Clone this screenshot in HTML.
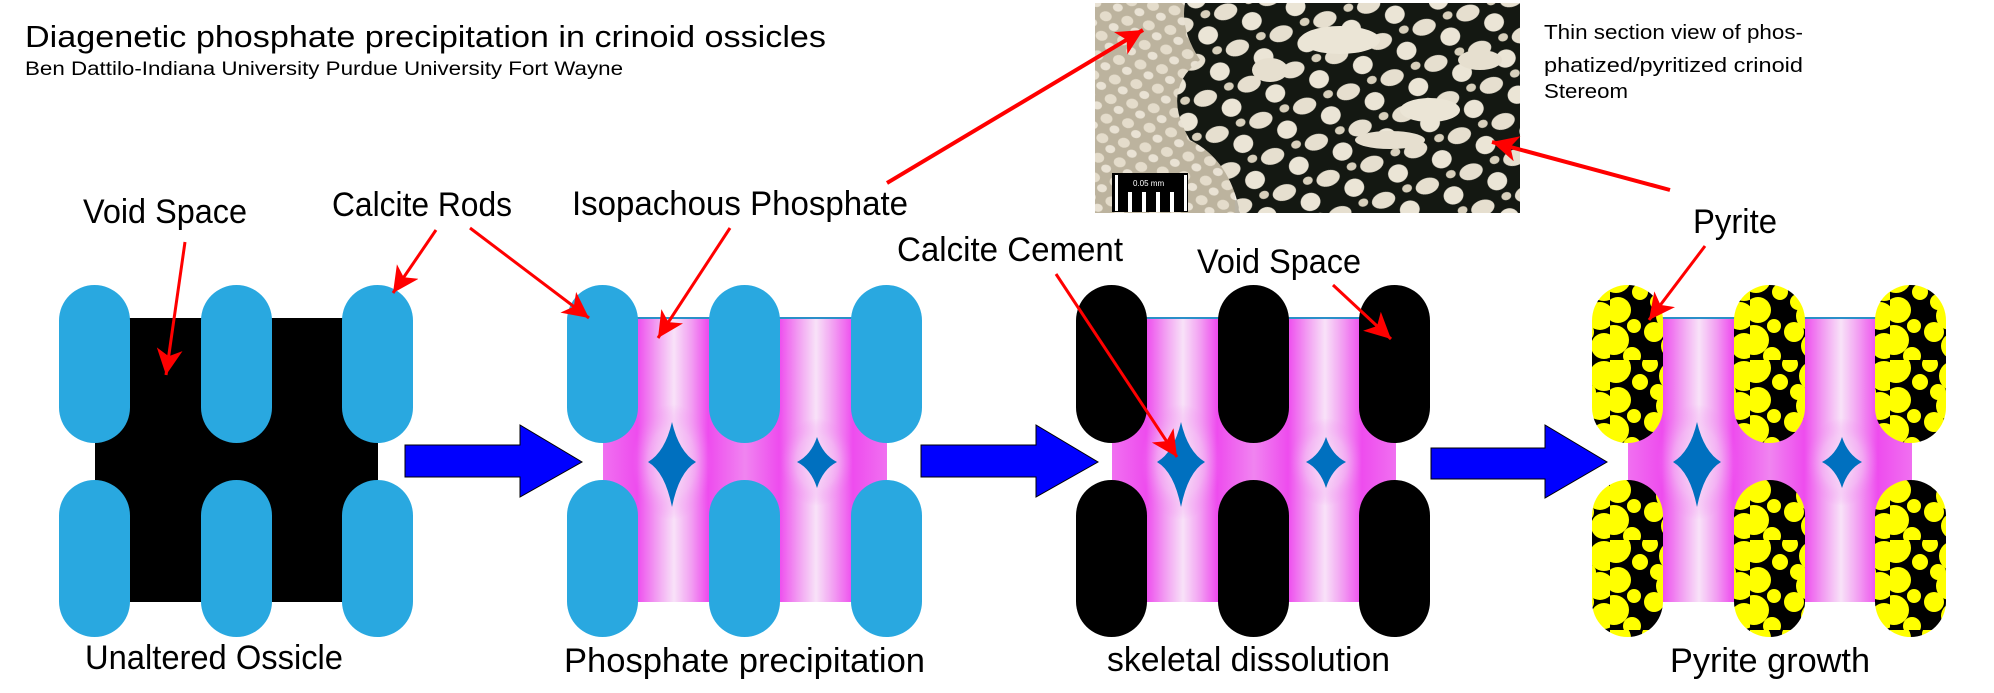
<!DOCTYPE html>
<html><head><meta charset="utf-8"><style>
html,body{margin:0;padding:0;background:#fff;width:1994px;height:693px;overflow:hidden}
svg{display:block}
text{font-family:"Liberation Sans Narrow","Liberation Sans",sans-serif;fill:#000}
</style></head><body>
<svg width="1994" height="693" viewBox="0 0 1994 693" xmlns="http://www.w3.org/2000/svg">
<defs>
<linearGradient id="pk" x1="0" y1="0" x2="1" y2="0">
<stop offset="0" stop-color="#f070f0"/><stop offset="0.12" stop-color="#ee4cee"/>
<stop offset="0.19" stop-color="#f2a0f2"/><stop offset="0.25" stop-color="#f8e2f8"/>
<stop offset="0.31" stop-color="#f2a0f2"/><stop offset="0.37" stop-color="#ee4cee"/>
<stop offset="0.5" stop-color="#f084f0"/><stop offset="0.62" stop-color="#ee4cee"/>
<stop offset="0.69" stop-color="#f2a0f2"/><stop offset="0.75" stop-color="#f8e2f8"/>
<stop offset="0.81" stop-color="#f2a0f2"/><stop offset="0.88" stop-color="#ee4cee"/>
<stop offset="1" stop-color="#f070f0"/>
</linearGradient>
<radialGradient id="halo"><stop offset="0" stop-color="#f8e0f8" stop-opacity="0.9"/><stop offset="0.6" stop-color="#f4c0f4" stop-opacity="0.5"/><stop offset="1" stop-color="#f080f0" stop-opacity="0"/></radialGradient>
<marker id="ah" markerUnits="userSpaceOnUse" markerWidth="34" markerHeight="30" refX="26" refY="13" orient="auto">
<path d="M0,0 L26,13 L0,26 L7,13 Z" fill="#ff0000"/>
</marker>
<pattern id="py" patternUnits="userSpaceOnUse" width="70" height="90">
<rect width="70" height="90" fill="#000"/>
<g fill="#ffff00">
<circle cx="6" cy="8" r="15"/><circle cx="64" cy="16" r="15"/><circle cx="8" cy="40" r="13"/>
<circle cx="60" cy="46" r="14"/><circle cx="4" cy="70" r="15"/><circle cx="64" cy="76" r="13"/>
<circle cx="30" cy="22" r="8"/><circle cx="44" cy="62" r="10"/><circle cx="24" cy="56" r="7"/>
<circle cx="40" cy="4" r="8"/><circle cx="48" cy="32" r="8"/><circle cx="22" cy="86" r="9"/>
</g>
</pattern>
<pattern id="dots" patternUnits="userSpaceOnUse" width="22" height="20" patternTransform="rotate(12)">
<rect width="22" height="20" fill="#b9b3a4"/>
<ellipse cx="7" cy="6" rx="6" ry="5" fill="#eeeae0"/><ellipse cx="17" cy="15" rx="5" ry="4" fill="#f4f2ec"/>
</pattern>
<pattern id="blobs" patternUnits="userSpaceOnUse" width="46" height="38" patternTransform="rotate(-18)">
<rect width="46" height="38" fill="#141812"/>
<ellipse cx="12" cy="10" rx="12" ry="8" fill="#e6dfcf"/><ellipse cx="34" cy="27" rx="10" ry="9" fill="#ebe5d6"/>
<ellipse cx="38" cy="6" rx="5" ry="4" fill="#d8d0bc"/>
</pattern>
<clipPath id="ph"><rect x="1095" y="3" width="425" height="210"/></clipPath>
</defs>

<text x="25" y="47" font-size="31" textLength="801" lengthAdjust="spacingAndGlyphs">Diagenetic phosphate precipitation in crinoid ossicles</text>
<text x="25" y="75" font-size="19" textLength="598" lengthAdjust="spacingAndGlyphs">Ben Dattilo-Indiana University Purdue University Fort Wayne</text>

<g clip-path="url(#ph)">
<rect x="1095" y="3" width="425" height="210" fill="url(#dots)"/>
<rect x="1095" y="3" width="140" height="210" fill="#c8b48a" opacity="0.25"/>
<path d="M1185,3 L1520,3 L1520,213 L1240,213 Q1230,160 1190,140 Q1160,90 1200,60 Q1180,30 1185,3 Z" fill="url(#blobs)"/>
<ellipse cx="1340" cy="40" rx="40" ry="14" fill="#ebe5d6"/>
<ellipse cx="1430" cy="110" rx="30" ry="12" fill="#ebe5d6"/>
<ellipse cx="1390" cy="140" rx="35" ry="9" fill="#e6dfcf"/>
<ellipse cx="1270" cy="70" rx="18" ry="12" fill="#e6dfcf"/>
<ellipse cx="1480" cy="60" rx="22" ry="10" fill="#e6dfcf"/>
<rect x="1112" y="173" width="76" height="39" fill="#000"/>
<g fill="#fff"><rect x="1115" y="175" width="3" height="36"/><rect x="1184" y="175" width="3" height="36"/>
<rect x="1128" y="192" width="4" height="20"/><rect x="1142" y="192" width="4" height="20"/><rect x="1156" y="192" width="4" height="20"/><rect x="1170" y="192" width="4" height="20"/></g>
<text x="1133" y="186" font-size="8" style="fill:#fff">0.05 mm</text>
</g>
<text x="1544" y="39" font-size="20" textLength="259" lengthAdjust="spacingAndGlyphs">Thin section view of phos-</text>
<text x="1544" y="72" font-size="20" textLength="259" lengthAdjust="spacingAndGlyphs">phatized/pyritized crinoid</text>
<text x="1544" y="98" font-size="20" textLength="84" lengthAdjust="spacingAndGlyphs">Stereom</text>

<rect x="95" y="318" width="283" height="284" fill="#000"/>
<g fill="#29a8e0">
<rect x="59" y="285" width="71" height="158" rx="35.5"/><rect x="201" y="285" width="71" height="158" rx="35.5"/><rect x="342" y="285" width="71" height="158" rx="35.5"/>
<rect x="59" y="480" width="71" height="157" rx="35.5"/><rect x="201" y="480" width="71" height="157" rx="35.5"/><rect x="342" y="480" width="71" height="157" rx="35.5"/>
</g>

<rect x="603" y="318" width="284" height="284" fill="url(#pk)"/>
<rect x="1112" y="318" width="284" height="284" fill="url(#pk)"/>
<rect x="1628" y="318" width="284" height="284" fill="url(#pk)"/>
<g stroke="#2a8fc8" stroke-width="2"><line x1="603" y1="318" x2="887" y2="318"/><line x1="1112" y1="318" x2="1396" y2="318"/><line x1="1628" y1="318" x2="1912" y2="318"/></g>
<g fill="url(#halo)">
<ellipse cx="672" cy="462" rx="40" ry="58"/><ellipse cx="817" cy="462" rx="36" ry="44"/>
<ellipse cx="1181" cy="462" rx="40" ry="58"/><ellipse cx="1326" cy="462" rx="36" ry="44"/>
<ellipse cx="1697" cy="462" rx="40" ry="58"/><ellipse cx="1842" cy="462" rx="36" ry="44"/>
</g>
<g fill="#0070bf">
<path d="M672,422 Q679,452 696,462 Q679,472 672,507 Q665,472 648,462 Q665,452 672,422 Z"/>
<path d="M817,437 Q823,455 837,462 Q823,469 817,488 Q811,469 797,462 Q811,455 817,437 Z"/>
<path d="M1181,422 Q1188,452 1205,462 Q1188,472 1181,507 Q1174,472 1157,462 Q1174,452 1181,422 Z"/>
<path d="M1326,437 Q1332,455 1346,462 Q1332,469 1326,488 Q1320,469 1306,462 Q1320,455 1326,437 Z"/>
<path d="M1697,422 Q1704,452 1721,462 Q1704,472 1697,507 Q1690,472 1673,462 Q1690,452 1697,422 Z"/>
<path d="M1842,437 Q1848,455 1862,462 Q1848,469 1842,488 Q1836,469 1822,462 Q1836,455 1842,437 Z"/>
</g>
<g fill="#29a8e0">
<rect x="567" y="285" width="71" height="158" rx="35.5"/><rect x="709" y="285" width="71" height="158" rx="35.5"/><rect x="851" y="285" width="71" height="158" rx="35.5"/>
<rect x="567" y="480" width="71" height="157" rx="35.5"/><rect x="709" y="480" width="71" height="157" rx="35.5"/><rect x="851" y="480" width="71" height="157" rx="35.5"/>
</g>
<g fill="#000">
<rect x="1076" y="285" width="71" height="158" rx="35.5"/><rect x="1218" y="285" width="71" height="158" rx="35.5"/><rect x="1359" y="285" width="71" height="158" rx="35.5"/>
<rect x="1076" y="480" width="71" height="157" rx="35.5"/><rect x="1218" y="480" width="71" height="157" rx="35.5"/><rect x="1359" y="480" width="71" height="157" rx="35.5"/>
</g>
<g fill="url(#py)">
<rect x="1592" y="285" width="71" height="158" rx="35.5"/><rect x="1734" y="285" width="71" height="158" rx="35.5"/><rect x="1875" y="285" width="71" height="158" rx="35.5"/>
<rect x="1592" y="480" width="71" height="157" rx="35.5"/><rect x="1734" y="480" width="71" height="157" rx="35.5"/><rect x="1875" y="480" width="71" height="157" rx="35.5"/>
</g>

<g fill="#0000ff" stroke="#000" stroke-width="1">
<path d="M405,445 L520,445 L520,425 L582,462 L520,497 L520,477 L405,477 Z"/>
<path d="M921,445 L1036,445 L1036,425 L1098,462 L1036,497 L1036,477 L921,477 Z"/>
<path d="M1431,448 L1545,448 L1545,425 L1607,462 L1545,498 L1545,479 L1431,479 Z"/>
</g>

<g font-size="34">
<text x="83" y="223" textLength="164" lengthAdjust="spacingAndGlyphs">Void Space</text>
<text x="332" y="216" textLength="180" lengthAdjust="spacingAndGlyphs">Calcite Rods</text>
<text x="572" y="215" textLength="336" lengthAdjust="spacingAndGlyphs">Isopachous Phosphate</text>
<text x="897" y="261" textLength="226" lengthAdjust="spacingAndGlyphs">Calcite Cement</text>
<text x="1197" y="273" textLength="164" lengthAdjust="spacingAndGlyphs">Void Space</text>
<text x="1693" y="233" textLength="84" lengthAdjust="spacingAndGlyphs">Pyrite</text>
<text x="85" y="669" textLength="258" lengthAdjust="spacingAndGlyphs">Unaltered Ossicle</text>
<text x="564" y="672" textLength="361" lengthAdjust="spacingAndGlyphs">Phosphate precipitation</text>
<text x="1107" y="671" textLength="283" lengthAdjust="spacingAndGlyphs">skeletal dissolution</text>
<text x="1670" y="672" textLength="200" lengthAdjust="spacingAndGlyphs">Pyrite growth</text>
</g>

<g stroke="#ff0000" stroke-width="3" fill="none" marker-end="url(#ah)">
<line x1="185" y1="242" x2="166" y2="375"/>
<line x1="436" y1="230" x2="393" y2="293"/>
<line x1="470" y1="228" x2="589" y2="318"/>
<line x1="730" y1="228" x2="658" y2="338"/>
<line x1="887" y1="183" x2="1143" y2="30" stroke-width="4"/>
<line x1="1670" y1="190" x2="1492" y2="142" stroke-width="4"/>
<line x1="1056" y1="274" x2="1177" y2="457"/>
<line x1="1333" y1="285" x2="1391" y2="339"/>
<line x1="1705" y1="246" x2="1649" y2="320"/>
</g>
</svg>
</body></html>
